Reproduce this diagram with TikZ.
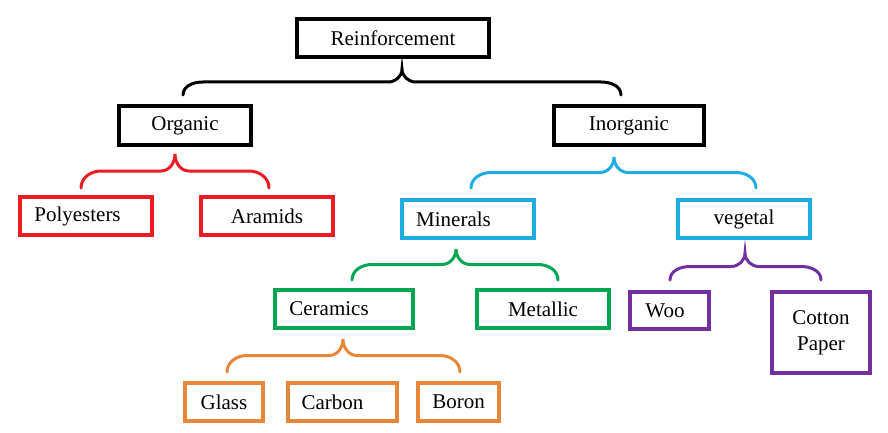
\documentclass[tikz,border=0pt]{standalone}
\usepackage{fontspec}
\setmainfont{Liberation Serif}
\usetikzlibrary{calc}
\definecolor{orgred}{RGB}{236,28,36}
\definecolor{inorgblue}{RGB}{30,172,226}
\definecolor{minergreen}{RGB}{0,166,81}
\definecolor{ceramorange}{RGB}{232,134,58}
\definecolor{vegpurple}{RGB}{112,48,160}
\tikzset{
  box/.style={draw, line width=2pt, minimum height=19pt, inner sep=0pt, align=center,
    font=\fontsize{10.5}{13}\selectfont},
  brace/.style={line width=1.5pt, line cap=round},
}
\newcommand{\treebrace}[4][black]{%
  \draw[brace,#1] let \p1=#2, \p2=#3, \p3=#4, \p4=($(\p1)!.5!(\p2)$) in
  (\p2) to[out=90,in=180] (\x2+10pt,\y4) -- (\x1-7pt,\y4) to[out=0,in=-90] (\p1)
  to[out=-90,in=180] (\x1+7pt,\y4) -- (\x3-10pt,\y4) to[out=0,in=90] (\p3);}
\begin{document}
\begin{tikzpicture}[x=0.5pt, y=-0.5pt]
\useasboundingbox (0,0) rectangle (888,433);
\node[box, minimum width=96pt] (reinf) at (393,38) {Reinforcement};
\node[box, minimum width=66pt, minimum height=19.5pt] (org) at (185,125.5) {Organic};
\node[box, minimum width=75pt, minimum height=19.5pt] (inorg) at (629,125.5) {Inorganic};
\node[box, orgred, text=black, minimum width=66pt] (poly) at (86,216) {Polyesters\hspace*{8.5pt}};
\node[box, orgred, text=black, minimum width=66pt] (aram) at (267,216) {Aramids};
\node[box, inorgblue, text=black, minimum width=66pt] (miner) at (468,219) {Minerals\hspace*{14.5pt}};
\node[box, inorgblue, text=black, minimum width=66pt] (veg) at (744,219) {vegetal};
\node[box, minergreen, text=black, minimum width=69pt] (ceram) at (344,309) {Ceramics\hspace*{15pt}};
\node[box, minergreen, text=black, minimum width=66pt] (metal) at (543,309) {Metallic};
\node[box, vegpurple, text=black, minimum width=39.5pt, minimum height=18.5pt] (woo) at (669.5,310.5) {Woo\hspace*{4.5pt}};
\node[box, vegpurple, text=black, minimum width=49pt, minimum height=40.5pt] (cotton) at (821,332.5) {Cotton\\Paper};
\node[box, ceramorange, text=black, minimum width=39pt] (glass) at (224,402) {Glass};
\node[box, ceramorange, text=black, minimum width=54.5pt] (carbon) at (342.5,402) {Carbon\hspace*{10pt}};
\node[box, ceramorange, text=black, minimum width=40.5pt] (boron) at (458.5,402) {Boron};
\treebrace{($(reinf.south)+(9,10)$)}{($(org.north)+(-2,-9)$)}{($(inorg.north)+(-8,-9)$)}
\treebrace[orgred]{($(org.south)+(-10,7)$)}{($(poly.north)+(-5,-7)$)}{($(aram.north)+(2,-7)$)}
\treebrace[inorgblue]{($(inorg.south)+(-15,10)$)}{($(miner.north)+(3,-10)$)}{($(veg.north)+(12,-10)$)}
\treebrace[minergreen]{($(miner.south)+(-12,9)$)}{($(ceram.north)+(8,-8)$)}{($(metal.north)+(15,-8)$)}
\treebrace[vegpurple]{($(veg.south)+(1,13)$)}{($(woo.north)+(0.5,-10)$)}{($(cotton.north)+(0,-10)$)}
\treebrace[ceramorange]{($(ceram.south)+(-1,9)$)}{($(glass.north)+(3,-9)$)}{($(boron.north)+(1.5,-9)$)}
\end{tikzpicture}
\end{document}
